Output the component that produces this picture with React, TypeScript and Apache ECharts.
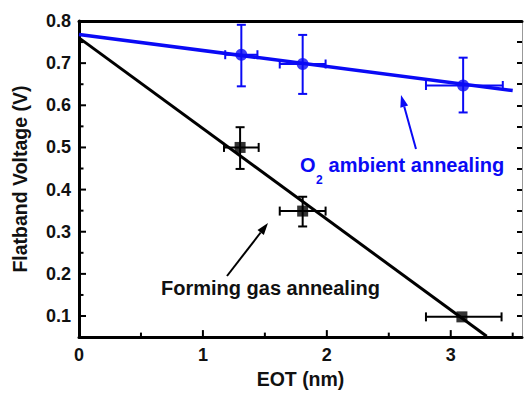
import React, { useEffect, useRef } from "react";
import * as echarts from "echarts";

// ---- data ----
const blueLine: [number, number][] = [[0, 0.768], [3.5, 0.635]];
const blackLine: [number, number][] = [[0, 0.76], [3.29, 0.052]];

// [x, y, xLow, xHigh, yLow, yHigh]
const bluePoints: number[][] = [
  [1.31, 0.72, 1.18, 1.44, 0.645, 0.791],
  [1.805, 0.698, 1.62, 1.99, 0.627, 0.767],
  [3.1, 0.647, 2.8, 3.42, 0.583, 0.713],
];
const blackPoints: number[][] = [
  [1.3, 0.5, 1.17, 1.45, 0.449, 0.548],
  [1.805, 0.349, 1.62, 1.99, 0.3125, 0.383],
  [3.09, 0.098, 2.8, 3.41, 0.098, 0.098],
];

const xMin = 0, xMax = 3.575;
const yMin = 0.05, yMax = 0.8;
const xMajorTicks = [0, 1, 2, 3];
const xMinorTicks = [0.5, 1.5, 2.5, 3.5];
const yMajorTicks = [0.1, 0.2, 0.3, 0.4, 0.5, 0.6, 0.7, 0.8];
const yMinorTicks = [0.15, 0.25, 0.35, 0.45, 0.55, 0.65, 0.75];

const BLUE = "#0a0af5";
const FONT = '"Liberation Sans", Arial, sans-serif';

function errRender(color: string) {
  return (params: any, api: any) => {
    const x = api.value(0), y = api.value(1);
    const xl = api.value(2), xh = api.value(3), yl = api.value(4), yh = api.value(5);
    const pL = api.coord([xl, y]);
    const pH = api.coord([xh, y]);
    const pB = api.coord([x, yl]);
    const pT = api.coord([x, yh]);
    const cap = 4.5;
    const st = { stroke: color, lineWidth: 2 };
    const children: any[] = [
      { type: "line", shape: { x1: pL[0], y1: pL[1], x2: pH[0], y2: pH[1] }, style: st },
      { type: "line", shape: { x1: pL[0], y1: pL[1] - cap, x2: pL[0], y2: pL[1] + cap }, style: st },
      { type: "line", shape: { x1: pH[0], y1: pH[1] - cap, x2: pH[0], y2: pH[1] + cap }, style: st },
    ];
    if (Math.abs(pB[1] - pT[1]) > 1) {
      children.push(
        { type: "line", shape: { x1: pB[0], y1: pB[1], x2: pT[0], y2: pT[1] }, style: st },
        { type: "line", shape: { x1: pB[0] - cap, y1: pB[1], x2: pB[0] + cap, y2: pB[1] }, style: st },
        { type: "line", shape: { x1: pT[0] - cap, y1: pT[1], x2: pT[0] + cap, y2: pT[1] }, style: st }
      );
    }
    return { type: "group", children };
  };
}

// ticks drawn inward from the left / bottom axis, positions via the axis scale
function tickSeries(values: number[], dir: "x" | "y", len: number) {
  return {
    type: "custom",
    silent: true,
    z: 6,
    clip: false,
    data: values.map((v) => (dir === "x" ? [v, yMin] : [xMin, v])),
    encode: { x: 0, y: 1 },
    renderItem: (params: any, api: any) => {
      const p = api.coord([api.value(0), api.value(1)]);
      const shape =
        dir === "x"
          ? { x1: p[0], y1: p[1], x2: p[0], y2: p[1] - len }
          : { x1: p[0], y1: p[1], x2: p[0] + len, y2: p[1] };
      return { type: "line", shape, style: { stroke: "#000", lineWidth: 2 } };
    },
  };
}

function arrow(x1: number, y1: number, x2: number, y2: number, color: string) {
  const dx = x2 - x1, dy = y2 - y1;
  const len = Math.sqrt(dx * dx + dy * dy);
  const ux = dx / len, uy = dy / len;
  const hl = 12, hw = 4;
  const bx = x2 - ux * hl, by = y2 - uy * hl;
  return {
    type: "group",
    silent: true,
    children: [
      { type: "line", shape: { x1, y1, x2: bx, y2: by }, style: { stroke: color, lineWidth: 2 } },
      {
        type: "polygon",
        shape: { points: [[x2, y2], [bx - uy * hw, by + ux * hw], [bx + uy * hw, by - ux * hw]] },
        style: { fill: color },
      },
    ],
  };
}

export default function App() {
  const ref = useRef<HTMLDivElement>(null);
  useEffect(() => {
    if (!ref.current) return;
    const chart = echarts.init(ref.current, undefined, { renderer: "svg" });
    const labelStyle = { fontFamily: FONT, fontWeight: "bold" as const, fontSize: 18, color: "#111" };
    chart.setOption({
      animation: false,
      backgroundColor: "#fff",
      grid: { left: 79, right: 2, top: 21, bottom: 43 },
      xAxis: [
        {
          type: "value", min: xMin, max: xMax, interval: 1, position: "bottom",
          name: "EOT (nm)", nameLocation: "middle", nameGap: 24,
          nameTextStyle: { fontFamily: FONT, fontWeight: "bold", fontSize: 19.5, color: "#111" },
          axisLine: { show: true, onZero: false, lineStyle: { color: "#000", width: 3 } },
          axisTick: { show: false },
          axisLabel: {
            ...labelStyle, margin: 9, showMaxLabel: false,
            formatter: (v: number) => (Math.abs(v - Math.round(v)) < 1e-6 ? String(Math.round(v)) : ""),
          },
          splitLine: { show: false },
        },
        {
          type: "value", min: xMin, max: xMax, position: "top",
          axisLine: { show: true, onZero: false, lineStyle: { color: "#000", width: 3 } },
          axisTick: { show: false },
          axisLabel: { show: false },
          splitLine: { show: false },
        },
      ],
      yAxis: [
        {
          type: "value", min: yMin, max: yMax, interval: 0.05, position: "left",
          name: "Flatband Voltage (V)", nameLocation: "middle", nameGap: 49,
          nameTextStyle: { fontFamily: FONT, fontWeight: "bold", fontSize: 19.5, color: "#111" },
          axisLine: { show: true, onZero: false, lineStyle: { color: "#000", width: 3 } },
          axisTick: { show: false },
          axisLabel: {
            ...labelStyle, margin: 8,
            formatter: (v: number) => (Math.round(v * 100) % 10 === 0 ? v.toFixed(1) : ""),
          },
          splitLine: { show: false },
        },
        {
          type: "value", min: yMin, max: yMax, interval: 0.05, position: "right",
          axisLine: { show: true, onZero: false, lineStyle: { color: "#999", width: 1 } },
          axisTick: { show: true, inside: true, length: 5, lineStyle: { color: "#000", width: 2 } },
          axisLabel: { show: false },
          splitLine: { show: false },
        },
      ],
      series: [
        {
          type: "line", data: blueLine, showSymbol: false, symbol: "none",
          lineStyle: { color: BLUE, width: 3.5 }, z: 2,
        },
        {
          type: "line", data: blackLine, showSymbol: false, symbol: "none",
          lineStyle: { color: "#000", width: 3 }, z: 2,
        },
        { type: "custom", data: bluePoints, renderItem: errRender(BLUE), z: 3, encode: { x: 0, y: 1 } },
        { type: "custom", data: blackPoints, renderItem: errRender("#000"), z: 3, encode: { x: 0, y: 1 } },
        {
          type: "scatter", data: bluePoints.map((p) => [p[0], p[1]]), symbol: "circle", symbolSize: 12,
          itemStyle: { color: BLUE }, z: 4,
        },
        {
          type: "scatter", data: blackPoints.map((p) => [p[0], p[1]]), symbol: "rect", symbolSize: 11,
          itemStyle: { color: "#000" }, z: 4,
        },
        tickSeries(xMajorTicks, "x", 7),
        tickSeries(xMinorTicks, "x", 4.5),
        tickSeries(yMajorTicks, "y", 7),
        tickSeries(yMinorTicks, "y", 4.5),
      ],
      graphic: [
        arrow(416, 149, 401, 95, BLUE),
        arrow(227, 276, 268, 223, "#000"),
        {
          type: "text", x: 300, y: 165,
          style: { text: "O", font: `bold 20px ${FONT}`, fill: BLUE, verticalAlign: "middle", align: "left" },
        },
        {
          type: "text", x: 316, y: 180,
          style: { text: "2", font: `bold 12px ${FONT}`, fill: BLUE, verticalAlign: "middle", align: "left" },
        },
        {
          type: "text", x: 323, y: 165,
          style: { text: " ambient annealing", font: `bold 20px ${FONT}`, fill: BLUE, verticalAlign: "middle", align: "left" },
        },
        {
          type: "text", x: 161, y: 288,
          style: { text: "Forming gas annealing", font: `bold 20px ${FONT}`, fill: "#111", verticalAlign: "middle", align: "left" },
        },
      ],
    });
    return () => chart.dispose();
  }, []);
  return <div ref={ref} style={{ width: 524, height: 394, position: "absolute", left: 0, top: 0 }} />;
}
